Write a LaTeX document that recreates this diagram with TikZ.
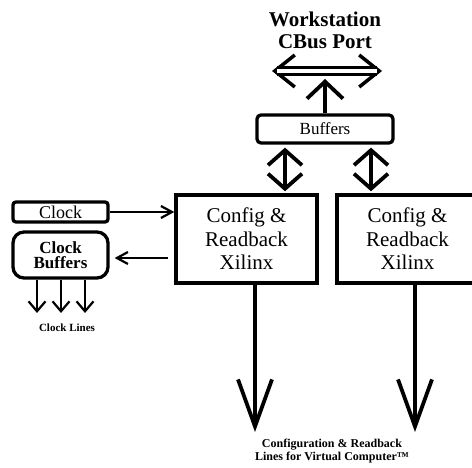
\documentclass[tikz,border=0pt]{standalone}
\usepackage{fontspec}
\setmainfont{Liberation Serif}
\usetikzlibrary{arrows.meta,calc}
\begin{document}
\begin{tikzpicture}[x=1pt,y=-1pt,
  cfgbox/.style={draw, line width=3.5pt, minimum width=141pt, minimum height=88pt, align=center, inner sep=0pt, font=\fontsize{21}{23.5}\selectfont},
  bufbox/.style={draw, line width=3.3pt, rounded corners=4pt, minimum width=136pt, minimum height=28pt, inner sep=0pt, font=\fontsize{17}{19}\selectfont},
  clkbox/.style={draw, line width=3.3pt, rounded corners=3pt, minimum width=95pt, minimum height=20pt, inner sep=0pt, font=\fontsize{18}{19}\selectfont},
  cbufbox/.style={draw, line width=3.3pt, rounded corners=11pt, minimum width=95pt, minimum height=46pt, inner sep=0pt, align=center, font=\bfseries\fontsize{17}{15.5}\selectfont},
  bigarrow/.style={line width=3.8pt, -{Straight Barb[length=47pt,width=34pt]}},
  dblarrow/.style={line width=3.8pt, {Straight Barb[length=15pt,width=34pt]}-{Straight Barb[length=15pt,width=34pt]}},
  uparrow/.style={line width=3.8pt, -{Straight Barb[length=17pt,width=36pt]}},
  thinarrow/.style={line width=2.2pt, -{Straight Barb[length=11pt,width=12pt]}},
  clkline/.style={line width=2.2pt, -{Straight Barb[length=10pt,width=17pt]}},
  label/.style={align=center, inner sep=0pt}
]
\useasboundingbox (0,0) rectangle (472,468);
\clip (0,0) rectangle (472,468);

\node[label, font=\bfseries\fontsize{21}{22}\selectfont] (ws) at (325,30) {Workstation\\CBus Port};
\coordinate (hl) at (272,71);
\coordinate (hr) at (382,71);
\coordinate (hlin) at (277,71);
\coordinate (hrin) at (377,71);

\node[bufbox] (buf) at (325,129) {Buffers};
\node[cfgbox] (cfgL) at (246.5,239) {Config \&\\Readback\\Xilinx};
\node[cfgbox] (cfgR) at (407.5,239) {Config \&\\Readback\\Xilinx};
\node[clkbox] (clock) at (60.5,212) {Clock};
\node[cbufbox] (cbuf) at (60.5,255) {Clock\\Buffers};

% top bus double arrow
\draw[line width=3.5pt, {Straight Barb[length=20pt,width=32pt]}-{Straight Barb[length=20pt,width=32pt]}] (hl) -- (hr);
\draw[line width=3pt, double=white, double distance=4pt] (hlin) -- (hrin);
\draw[uparrow] (buf.north) -- (buf.north |- 0,79);

% buffers to config
\draw[dblarrow] ($(buf.south -| 285,0)+(0,3)$) -- ($(cfgL.north -| 285,0)+(0,-2)$);
\draw[dblarrow] ($(buf.south -| 371,0)+(0,3)$) -- ($(cfgR.north -| 371,0)+(0,-2)$);

% clock
\draw[thinarrow] (clock.east) -- (clock.east -| cfgL.west);
\draw[thinarrow] ($(cfgL.west |- 0,258)+(-6,0)$) -- ($(cbuf.east |- 0,258)+(5,0)$);
\foreach \x in {37,61,85} {
  \draw[clkline] (cbuf.south -| \x,0) -- (\x,313);
}
\node[label, font=\bfseries\fontsize{11}{12}\selectfont] (cl) at (67,328) {Clock Lines};

% outputs
\draw[bigarrow] (cfgL.south -| 255,0) -- (255,432);
\draw[bigarrow] (cfgR.south -| 415,0) -- (415,432);
\node[label, font=\bfseries\fontsize{12}{13.5}\selectfont] (cap) at (332,451) {Configuration \& Readback\\Lines for Virtual Computer™};
\end{tikzpicture}
\end{document}
